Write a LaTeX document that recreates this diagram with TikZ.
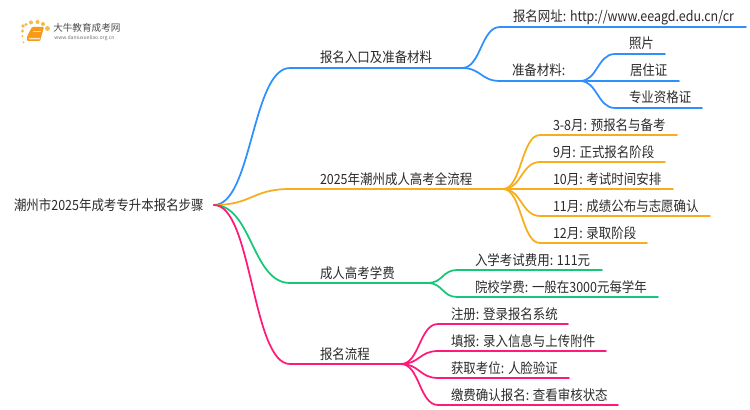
\documentclass[tikz,border=0pt]{standalone}
\usepackage{fontspec}
\setmainfont[FakeStretch=0.89]{Noto Sans CJK SC}
\newfontfamily\logofont{Noto Sans CJK SC}
\usetikzlibrary{calc}
\definecolor{cblue}{HTML}{2E8FFF}
\definecolor{corange}{HTML}{F7AE1D}
\definecolor{cgreen}{HTML}{14C878}
\definecolor{cpink}{HTML}{FF1A7A}
\definecolor{ctext}{HTML}{2B2B2B}
\definecolor{cbook}{HTML}{F59A1B}
\tikzset{
  x=0.75pt,y=-0.75pt,
  lab/.style={font=\fontsize{10.5pt}{12pt}\selectfont,text=ctext,anchor=base west,inner sep=0pt,outer sep=0pt},
  wire/.style={line width=1.3pt,line cap=round},
}
\newcommand{\branch}[3]{\draw[wire,#1] (#2) .. controls ($(#2)!0.5!(#3|-#2)$) and ($(#3)!0.5!(#2|-#3)$) .. (#3);}
\begin{document}
\begin{tikzpicture}
\useasboundingbox (0,0) rectangle (750,410);
\fill[white] (0,0) rectangle (750,410);
% logo
\fill[cbook,rounded corners=0.8pt] (27,36.5) -- (32,27) -- (44,27) -- (40,41) -- (27,41) -- cycle;
\fill[white!75!cbook] (29,38) -- (40,38) -- (39.5,39.5) -- (29,39.5) -- cycle;
\draw[white!60!cbook,line width=.5pt] (33,31) -- (41,31);
\foreach \p/\q/\r in {22.5/31/1.6,23/26/1.8,26/24.5/1.6,31/22.5/2,37.5/22/2,43/24/2,47.5/28.5/2.4,22.5/36/1.2,23.5/42.5/1}
  \fill[corange!85!white] (\p,\q) circle[radius=\r*0.75pt];
\node[anchor=west,inner sep=0pt,text=black!70,font=\logofont\fontsize{7.2pt}{8pt}\selectfont] (lg1) at (53,27.5) {大牛教育成考网};
\node[anchor=west,inner sep=0pt,text=black!55,font=\logofont\fontsize{3.8pt}{4pt}\selectfont] (lg2) at (54,38.5) {www.daniuxueliao.org.cn};
% junctions
\coordinate (root) at (214,205);
\coordinate (a0) at (290,68);\coordinate (a1) at (462,68);
\coordinate (a2) at (500,27);\coordinate (a3) at (746,27);
\coordinate (a4) at (500,81);\coordinate (a5) at (580,81);
\coordinate (a6) at (615,54);\coordinate (a7) at (665,54);
\coordinate (a8) at (615,81);\coordinate (a9) at (679,81);
\coordinate (a10) at (615,108);\coordinate (a11) at (702,108);
\coordinate (b0) at (290,189);\coordinate (b1) at (503,189);
\coordinate (b2) at (540,135);\coordinate (b3) at (677,135);
\coordinate (b4) at (540,162);\coordinate (b5) at (665,162);
\coordinate (b6) at (540,189);\coordinate (b7) at (673,189);
\coordinate (b8) at (540,216);\coordinate (b9) at (710,216);
\coordinate (b10) at (540,243);\coordinate (b11) at (647,243);
\coordinate (c0) at (290,283);\coordinate (c1) at (428,283);
\coordinate (c2) at (457,270);\coordinate (c3) at (602,270);
\coordinate (c4) at (457,297);\coordinate (c5) at (658,297);
\coordinate (d0) at (290,364);\coordinate (d1) at (401,364);
\coordinate (d2) at (438,324);\coordinate (d3) at (568,324);
\coordinate (d4) at (438,351);\coordinate (d5) at (606,351);
\coordinate (d6) at (438,378);\coordinate (d7) at (569,378);
\coordinate (d8) at (438,405);\coordinate (d9) at (618,405);
% connectors
\branch{cblue}{root}{a0}\draw[wire,cblue] (a0)--(a1);
\branch{cblue}{a1}{a2}\draw[wire,cblue] (a2)--(a3);
\branch{cblue}{a1}{a4}\draw[wire,cblue] (a4)--(a5);
\branch{cblue}{a5}{a6}\draw[wire,cblue] (a6)--(a7);
\branch{cblue}{a5}{a8}\draw[wire,cblue] (a8)--(a9);
\branch{cblue}{a5}{a10}\draw[wire,cblue] (a10)--(a11);
\branch{corange}{root}{b0}\draw[wire,corange] (b0)--(b1);
\foreach \u/\v in {b2/b3,b4/b5,b6/b7,b8/b9,b10/b11}{\branch{corange}{b1}{\u}\draw[wire,corange] (\u)--(\v);}
\branch{cgreen}{root}{c0}\draw[wire,cgreen] (c0)--(c1);
\foreach \u/\v in {c2/c3,c4/c5}{\branch{cgreen}{c1}{\u}\draw[wire,cgreen] (\u)--(\v);}
\branch{cpink}{root}{d0}\draw[wire,cpink] (d0)--(d1);
\foreach \u/\v in {d2/d3,d4/d5,d6/d7,d8/d9}{\branch{cpink}{d1}{\u}\draw[wire,cpink] (\u)--(\v);}
% labels
\node[lab] (root-t) at (14,210) {潮州市2025年成考专升本报名步骤};
\node[lab] (ta) at (320,63) {报名入口及准备材料};
\node[lab] (ta1) at (513,22) {报名网址: http://www.eeagd.edu.cn/cr};
\node[lab] (ta2) at (512,76) {准备材料:};
\node[lab] (ta3) at (629,49) {照片};
\node[lab] (ta4) at (630,76) {居住证};
\node[lab] (ta5) at (629,103) {专业资格证};
\node[lab] (tb) at (320,184) {2025年潮州成人高考全流程};
\node[lab] (tb1) at (553,130) {3-8月: 预报名与备考};
\node[lab] (tb2) at (553,157) {9月: 正式报名阶段};
\node[lab] (tb3) at (553,184) {10月: 考试时间安排};
\node[lab] (tb4) at (553,211) {11月: 成绩公布与志愿确认};
\node[lab] (tb5) at (553,238) {12月: 录取阶段};
\node[lab] (tc) at (320,278) {成人高考学费};
\node[lab] (tc1) at (475,265) {入学考试费用: 111元};
\node[lab] (tc2) at (475,292) {院校学费: 一般在3000元每学年};
\node[lab] (td) at (320,359) {报名流程};
\node[lab] (td1) at (451,319) {注册: 登录报名系统};
\node[lab] (td2) at (451,346) {填报: 录入信息与上传附件};
\node[lab] (td3) at (451,373) {获取考位: 人脸验证};
\node[lab] (td4) at (451,400) {缴费确认报名: 查看审核状态};
\end{tikzpicture}
\end{document}
